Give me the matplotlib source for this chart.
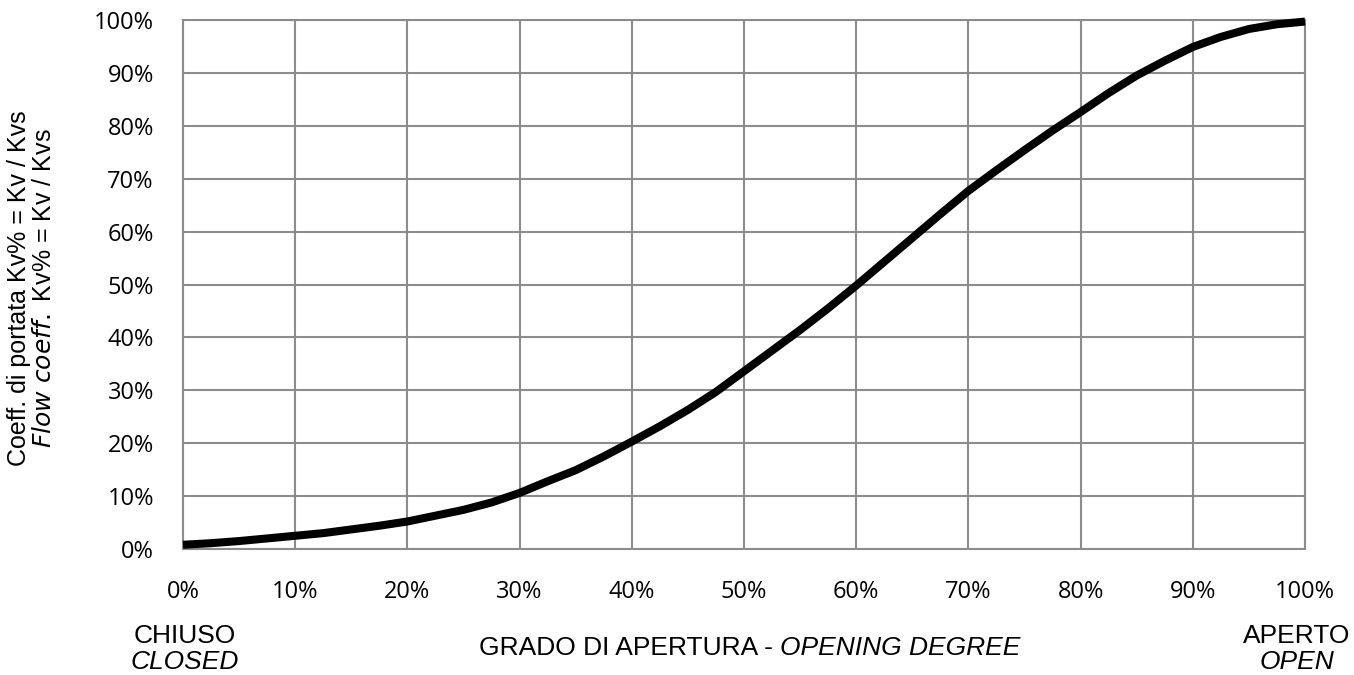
import matplotlib
matplotlib.use("Agg")
import matplotlib.pyplot as plt
from matplotlib.ticker import FuncFormatter

plt.rcParams['font.family'] = ['Liberation Sans', 'DejaVu Sans']

# Opening degree (%) and flow coefficient Kv/Kvs (%)
opening = [0, 2.5, 5, 7.5, 10, 12.5, 15, 17.5, 20, 22.5, 25, 27.5, 30, 32.5, 35, 37.5, 40,
           42.5, 45, 47.5, 50, 52.5, 55, 57.5, 60, 62.5, 65, 67.5, 70, 72.5, 75, 77.5, 80,
           82.5, 85, 87.5, 90, 92.5, 95, 97.5, 100]
kv_pct = [0.8, 1.1, 1.5, 2.0, 2.5, 3.0, 3.7, 4.4, 5.2, 6.3, 7.4, 8.8, 10.6, 12.8, 14.9, 17.5, 20.3,
          23.2, 26.3, 29.7, 33.6, 37.5, 41.4, 45.5, 49.8, 54.3, 58.8, 63.3, 67.7, 71.6, 75.4, 79.1, 82.6,
          86.2, 89.5, 92.3, 94.9, 96.8, 98.3, 99.2, 99.7]

x_ticks = list(range(0, 101, 10))
y_ticks = list(range(0, 101, 10))

fig = plt.figure(figsize=(13.54, 6.75), dpi=100)
ax = fig.add_axes([183/1354, 1-549/675, (1305-183)/1354, (549-20)/675])

grid_c = '#8c8c8c'
ax.plot(opening, kv_pct, color='black', lw=5.8, solid_capstyle='butt',
        solid_joinstyle='round', zorder=3, clip_on=False)

ax.set_xlim(0, 100)
ax.set_ylim(0, 100)
ax.set_xticks(x_ticks)
ax.set_yticks(y_ticks)
pct = FuncFormatter(lambda v, p: f"{int(v)}%")
ax.xaxis.set_major_formatter(pct)
ax.yaxis.set_major_formatter(pct)
ax.tick_params(axis='both', length=0, labelsize=17, colors='black')
for lab in ax.get_xticklabels() + ax.get_yticklabels():
    lab.set_fontfamily(['Open Sans', 'DejaVu Sans'])
ax.tick_params(axis='x', pad=22.5)
ax.tick_params(axis='y', pad=21)
ax.grid(True, color=grid_c, lw=1.5)
ax.set_axisbelow(True)
for s in ax.spines.values():
    s.set_color(grid_c)
    s.set_linewidth(1.5)

# y label (two lines)
fs_y = 18
fig.text(19/1354, 1-288/675, "Coeff. di portata Kv% = Kv / Kvs", rotation=90,
         ha='center', va='center', fontsize=fs_y)
fig.text(44/1354, 1-288/675, "$\\it{Flow\\ coeff.}$ Kv% = Kv / Kvs", rotation=90,
         ha='center', va='center', fontsize=fs_y)

# bottom labels
fs = 19
fig.text(185/1354, 1-636/675, "CHIUSO", ha='center', va='center', fontsize=fs)
fig.text(185/1354, 1-662/675, "CLOSED", ha='center', va='center', fontsize=fs, style='italic')
fig.text(1297/1354, 1-636/675, "APERTO", ha='center', va='center', fontsize=fs)
fig.text(1297/1354, 1-662/675, "OPEN", ha='center', va='center', fontsize=fs, style='italic')
fig.text(780/1354, 1-648/675, "GRADO DI APERTURA - ", ha='right', va='center', fontsize=fs)
fig.text(780/1354, 1-648/675, "OPENING DEGREE", ha='left', va='center', fontsize=fs, style='italic')

fig.savefig("out.png", dpi=100)
